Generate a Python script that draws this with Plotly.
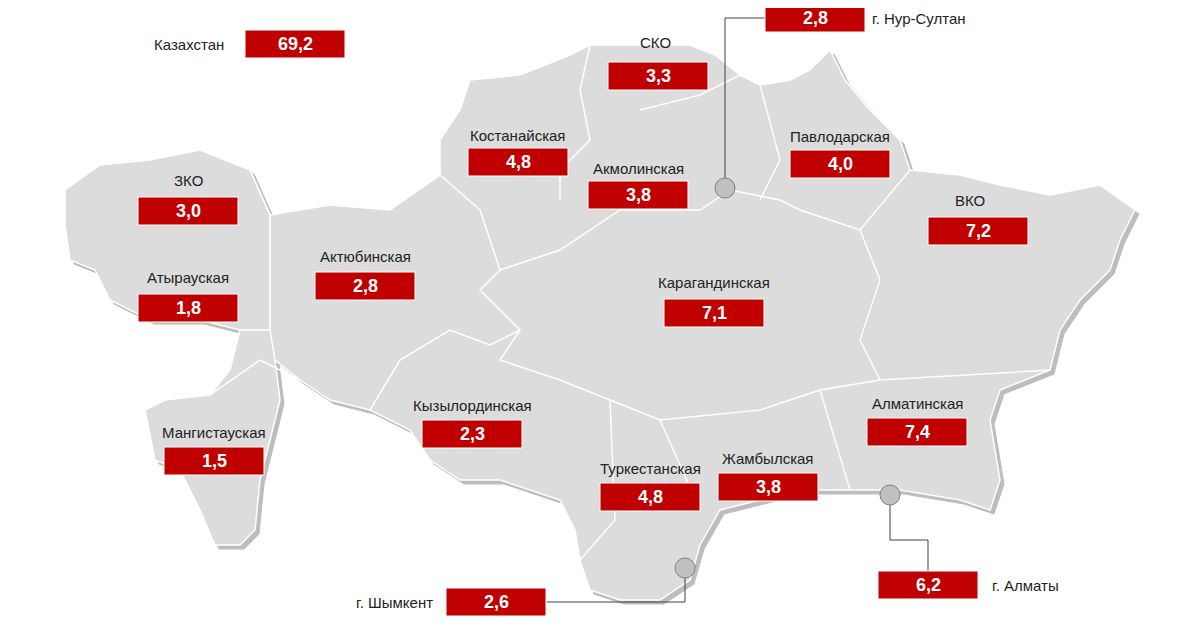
import plotly.graph_objects as go

regions = ["Казахстан","СКО","г. Нур-Султан","Костанайская","Акмолинская","Павлодарская","ЗКО","ВКО",
           "Актюбинская","Атырауская","Карагандинская","Кызылординская","Мангистауская","Алматинская",
           "Туркестанская","Жамбылская","г. Шымкент","г. Алматы"]
values = ["69,2","3,3","2,8","4,8","3,8","4,0","3,0","7,2","2,8","1,8","7,1","2,3","1,5","7,4","4,8","3,8","2,6","6,2"]

# layout positions (pixel space): box centre, name position, name anchor
box_pos = [(295,44),(658,76),(815,18),(518,162),(638,195),(840,164),(188,211),(978,231),(365,286),(188,308),
           (714,313),(472,434),(214,461),(917,432),(650,497),(768,487),(496,602),(928,585)]
name_pos = [(226,44,"right"),(655,42,"center"),(870,18,"left"),(518,135,"center"),(638,168,"center"),
            (840,136,"center"),(188,180,"center"),(970,200,"center"),(365,256,"center"),(188,277,"center"),
            (714,282,"center"),(472,405,"center"),(214,432,"center"),(917,403,"center"),(650,468,"center"),
            (768,458,"center"),(435,602,"right"),(990,585,"left")]

outline = [(65,190),(100,165),(150,160),(200,150),(250,170),(270,215),(330,205),(390,210),(440,175),(440,140),
           (460,110),(470,80),(520,75),(570,55),(590,45),(690,45),(715,55),(740,75),(760,85),(790,80),(810,70),
           (830,50),(845,80),(870,110),(900,140),(910,170),(960,175),(1000,185),(1050,195),(1100,185),(1135,210),
           (1120,240),(1110,270),(1080,300),(1060,330),(1050,370),(1000,390),(990,420),(1000,480),(990,510),
           (960,500),(900,490),(850,490),(800,490),(760,500),(720,510),(700,545),(690,580),(660,600),(620,600),
           (590,590),(580,560),(575,530),(560,500),(500,480),(460,480),(430,460),(410,430),(370,410),(330,400),
           (300,380),(275,360),(280,400),(270,440),(260,480),(255,530),(240,545),(215,545),(200,510),(180,470),
           (155,460),(145,410),(165,400),(210,395),(230,370),(240,330),(200,320),(150,320),(110,300),(95,270),
           (70,260),(65,225),(65,190)]
borders = [
    [(250,170),(270,215),(270,330),(240,330)],
    [(270,330),(275,360)],
    [(210,395),(260,360),(300,380)],
    [(440,175),(480,210),(500,270),(480,290),(520,330),(490,345),(450,330),(400,360),(370,410)],
    [(500,270),(560,250),(620,210),(700,210),(730,190),(780,200),(800,210),(860,230),(910,170)],
    [(590,45),(580,90),(590,140),(560,170),(560,200)],
    [(640,110),(700,95),(740,75)],
    [(760,85),(780,160),(760,200)],
    [(860,230),(880,280),(860,340),(880,380),(1050,370)],
    [(520,330),(500,360),(560,380),(610,400),(615,520),(580,560)],
    [(610,400),(660,420),(760,410),(820,390),(880,380)],
    [(660,420),(700,510)],
    [(820,390),(850,490)],
]

fig = go.Figure()
fig.add_trace(go.Scatter(x=[p[0]+4 for p in outline], y=[p[1]+4 for p in outline], fill="toself",
                         fillcolor="#bdbdbd", line=dict(color="#bdbdbd", width=1), mode="lines", hoverinfo="skip"))
fig.add_trace(go.Scatter(x=[p[0] for p in outline], y=[p[1] for p in outline], fill="toself",
                         fillcolor="#dcdcdc", line=dict(color="#ffffff", width=1.5), mode="lines", hoverinfo="skip"))
for b in borders:
    fig.add_trace(go.Scatter(x=[p[0] for p in b], y=[p[1] for p in b], mode="lines",
                             line=dict(color="white", width=1.5), hoverinfo="skip"))

leaders = [[(765,18),(725,18),(725,188)], [(547,602),(685,602),(685,568)], [(890,495),(890,540),(928,540),(928,571)]]
for l in leaders:
    fig.add_trace(go.Scatter(x=[p[0] for p in l], y=[p[1] for p in l], mode="lines",
                             line=dict(color="#404040", width=1), hoverinfo="skip"))
fig.add_trace(go.Scatter(x=[725,685,890], y=[188,568,495], mode="markers", hoverinfo="skip",
                         marker=dict(size=20, color="#c0c0c0", line=dict(color="#808080", width=1))))

for r, v, (bx, by), (nx, ny, anc) in zip(regions, values, box_pos, name_pos):
    fig.add_shape(type="rect", x0=bx-50, x1=bx+50, y0=by-14, y1=by+14, fillcolor="#c00000",
                  line=dict(color="white", width=1), layer="above")
    fig.add_annotation(x=bx, y=by, text=f"<b>{v}</b>", showarrow=False,
                       font=dict(color="white", size=18, family="Liberation Sans"))
    fig.add_annotation(x=nx, y=ny, text=r, showarrow=False, xanchor=anc,
                       font=dict(color="#222222", size=15, family="Liberation Sans"))

fig.update_layout(width=1200, height=630, margin=dict(l=0, r=0, t=0, b=0), showlegend=False,
                  plot_bgcolor="white", paper_bgcolor="white",
                  xaxis=dict(range=[8,1208], visible=False),
                  yaxis=dict(range=[638,8], visible=False))
fig.write_html("out.html")
